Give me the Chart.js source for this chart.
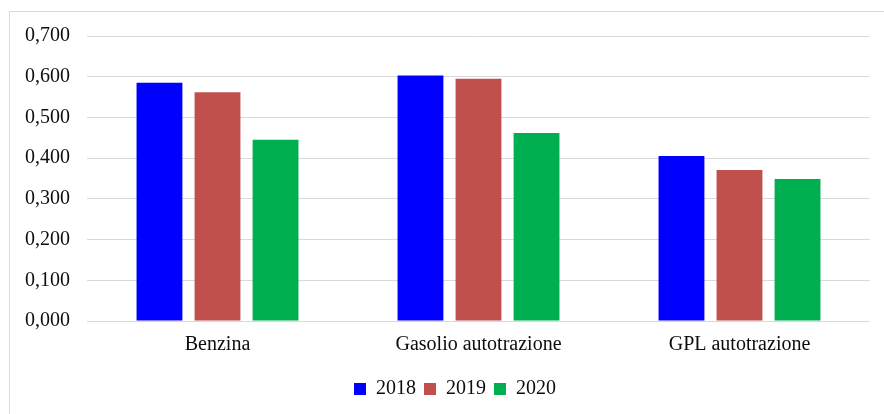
<!DOCTYPE html>
<html>
<head>
<meta charset="utf-8">
<script src="https://cdn.jsdelivr.net/npm/chart.js"></script>
<style>
  html, body { margin: 0; padding: 0; background: #fff; }
  #wrap { position: relative; width: 884px; height: 414px; overflow: hidden; }
  #frame {
    position: absolute; left: 9px; top: 11px; width: 900px; height: 420px;
    border-left: 1px solid #d9d9d9; border-top: 1px solid #d9d9d9;
  }
  #chart { position: absolute; left: 0; top: 0; }
</style>
</head>
<body>
<div id="wrap">
  <div id="frame"></div>
  <canvas id="chart" width="884" height="414"></canvas>
</div>
<script>
'use strict';

const fuels = ['Benzina', 'Gasolio autotrazione', 'GPL autotrazione'];
const years = ['2018', '2019', '2020'];
const values2018 = [0.585, 0.603, 0.405];
const values2019 = [0.562, 0.595, 0.371];
const values2020 = [0.445, 0.462, 0.349];
const yTickLabels = ['0,000', '0,100', '0,200', '0,300', '0,400', '0,500', '0,600', '0,700'];

const barColors = ['#0000ff', '#c0504d', '#00b050'];
const textColor = '#0d0d0d';
const serif = "'Liberation Serif', 'Times New Roman', serif";

let canvasElem = document.getElementById('chart');

// nudge the legend a bit to the right so it sits under the plot
const legendShift = {
    id: 'legendShift',
    afterLayout(chart) {
        chart.legend.left += 20;
        chart.legend.right += 20;
    }
};

function renderChart() {
    const seriesValues = [values2018, values2019, values2020];
    const datasets = [];
    for (let i = 0; i < years.length; i++) {
        datasets.push({
            label: years[i],
            data: seriesValues[i],
            backgroundColor: barColors[i],
            borderWidth: 0,
            barPercentage: 0.79,
            categoryPercentage: 0.667
        });
    }

    const config = {
        type: 'bar',
        data: { labels: fuels, datasets: datasets },
        plugins: [legendShift],
        options: {
            responsive: false,
            animation: false,
            layout: { padding: { top: 36, right: 14, bottom: 5, left: 0 } },
            plugins: {
                tooltip: { enabled: false },
                legend: {
                    position: 'bottom',
                    labels: {
                        boxWidth: 12,
                        boxHeight: 12,
                        padding: 8,
                        color: textColor,
                        font: { family: serif, size: 20 }
                    }
                }
            },
            scales: {
                x: {
                    grid: { display: false },
                    border: { display: false },
                    ticks: {
                        color: textColor,
                        padding: 4,
                        font: { family: serif, size: 20 }
                    },
                    afterFit: function (scale) { scale.height = 50; }
                },
                y: {
                    min: 0,
                    max: 0.7,
                    grid: { color: '#d9d9d9', lineWidth: 1, drawTicks: false },
                    border: { display: false },
                    ticks: {
                        stepSize: 0.1,
                        padding: 17,
                        color: textColor,
                        font: { family: serif, size: 20 },
                        callback: function (value, index) { return yTickLabels[index]; }
                    },
                    afterFit: function (scale) { scale.width = 87; }
                }
            }
        }
    };
    new Chart(canvasElem, config);
}

renderChart();
</script>
</body>
</html>
